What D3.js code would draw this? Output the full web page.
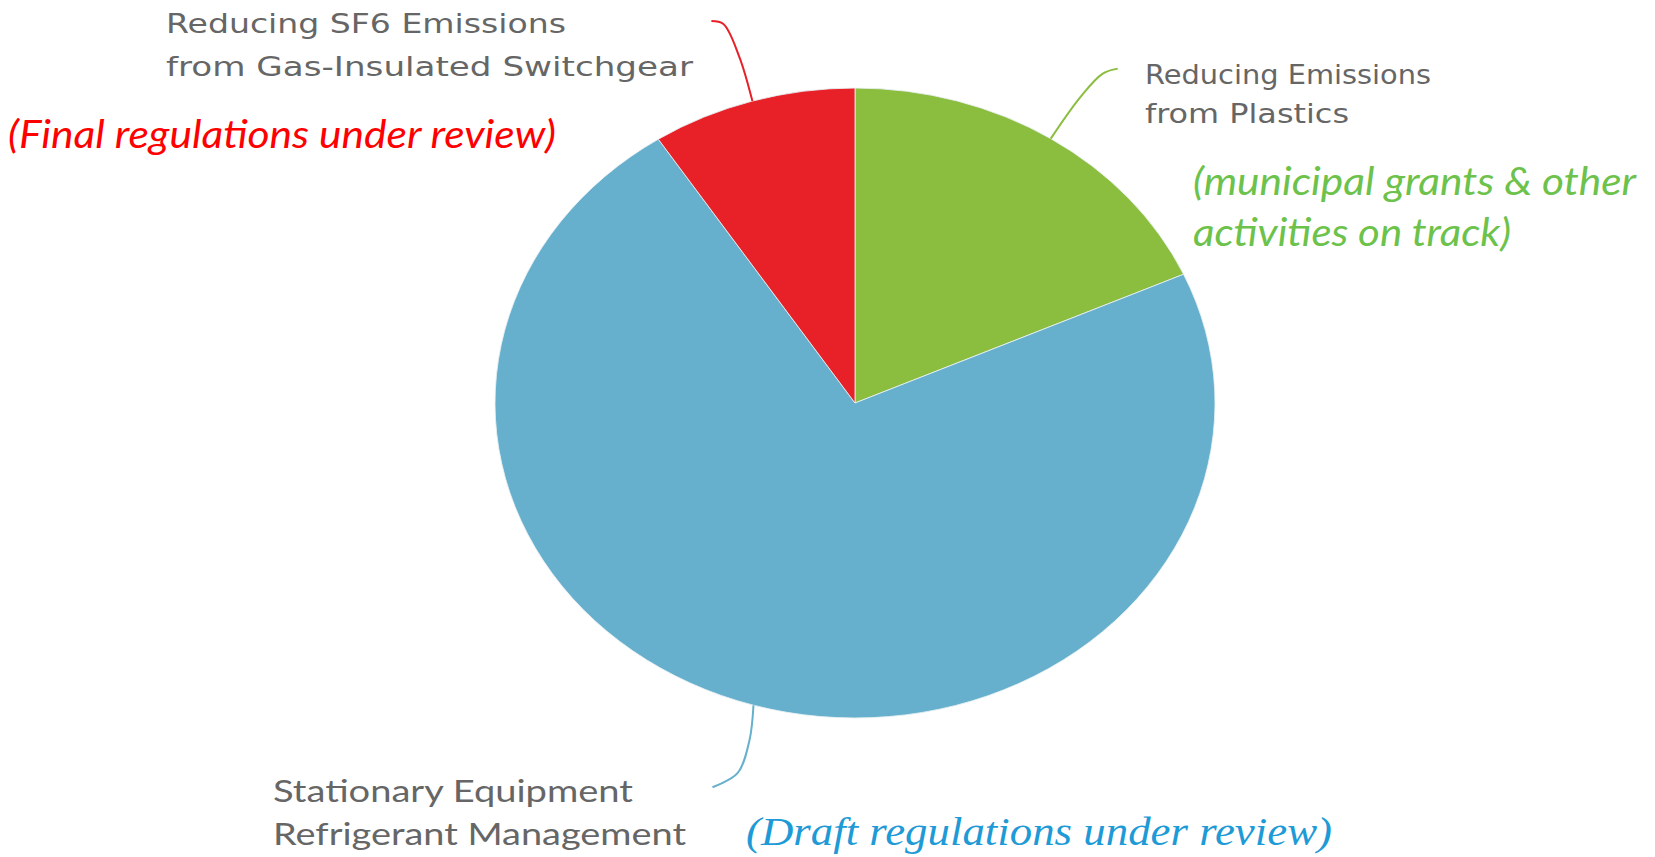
<!DOCTYPE html>
<html>
<head>
<meta charset="utf-8">
<script src="https://cdn.jsdelivr.net/npm/d3@7"></script>
<style>
  body { margin: 0; background: #fff; }
</style>
</head>
<body>
<div id="chart"></div>
<script>
// slice data, clockwise from 12 o'clock
var categories = ["Reducing Emissions from Plastics", "Stationary Equipment Refrigerant Management", "Reducing SF6 Emissions from Gas-Insulated Switchgear"]
var shares = [18.3, 72.5, 9.2]
var colors = ["#8bbd3f", "#66b0cd", "#e82129"]
var labelLines = [
    ["Reducing Emissions", "from Plastics"],
    ["Stationary Equipment", "Refrigerant Management"],
    ["Reducing SF6 Emissions", "from Gas-Insulated Switchgear"]
]
var statusNotes = [
    ["(municipal grants & other", "activities on track)"],
    ["(Draft regulations under review)"],
    ["(Final regulations under review)"]
]

var width = 1655, height = 857
var cx = 855, cy = 403
var r = 314, rx = 360, ry = 315

var svg = d3.select("#chart").append("svg")
    .attr("width", width)
    .attr("height", height)

var pie = d3.pie().sort(null).value(function(d) { return d })
var arcs = pie(shares)
var arc = d3.arc().innerRadius(0).outerRadius(r)

// the original pie is stretched sideways, so scale the circle
var pieG = svg.append("g")
    .attr("transform", "translate(" + cx + "," + cy + ") scale(" + (rx / r) + "," + (ry / r) + ")")

pieG.selectAll("path")
    .data(arcs)
    .enter()
    .append("path")
    .attr("d", arc)
    .attr("fill", function(d, i) { return colors[i] })
    .attr("stroke", "#e8f0f2")
    .attr("stroke-width", 0.8)

// leader lines start on the rim at the middle of each slice
function rimPoint(d) {
    var a = (d.startAngle + d.endAngle) / 2
    return [cx + rx * Math.sin(a), cy - ry * Math.cos(a)]
}
var leaderBends = [
    [[0, 0], [30, -42], [52, -65], [67, -70]],
    [[0, 0], [-4, 35], [-16, 68], [-41, 82]],
    [[0, 0], [-13, -44], [-29, -77], [-41, -80]]
]
var line = d3.line().curve(d3.curveCatmullRom.alpha(0.5))
svg.selectAll(".leader")
    .data(arcs)
    .enter()
    .append("path")
    .attr("class", "leader")
    .attr("d", function(d, i) {
        var p = rimPoint(d)
        return line(leaderBends[i].map(function(o) { return [p[0] + o[0], p[1] + o[1]] }))
    })
    .attr("fill", "none")
    .attr("stroke", function(d, i) { return colors[i] })
    .attr("stroke-width", 2)

// grey category labels
var labelPos = [
    {x: 1145, y: [84, 123], w: [286, 204]},
    {x: 273, y: [802, 845], w: [360, 413]},
    {x: 166, y: [33, 76], w: [400, 527]}
]
labelLines.forEach(function(lines, i) {
    lines.forEach(function(t, j) {
        svg.append("text")
            .attr("x", labelPos[i].x)
            .attr("y", labelPos[i].y[j])
            .attr("textLength", labelPos[i].w[j])
            .attr("lengthAdjust", "spacingAndGlyphs")
            .style("font-family", i == 1 ? "Lato" : "DejaVu Sans")
            .style("font-size", i == 1 ? "30px" : "26px")
            .style("fill", "#666")
            .text(t)
    })
})

// coloured status notes
var notePos = [
    {x: 1193, y: [195, 246], w: [443, 318], font: "Lato", size: 38, color: "#6cc24a"},
    {x: 746, y: [845], w: [586], font: "Liberation Serif", size: 40, color: "#1e9ad6"},
    {x: 8, y: [148], w: [548], font: "Lato", size: 38, color: "#ff0000"}
]
statusNotes.forEach(function(lines, i) {
    var p = notePos[i]
    lines.forEach(function(t, j) {
        svg.append("text")
            .attr("x", p.x)
            .attr("y", p.y[j])
            .attr("textLength", p.w[j])
            .attr("lengthAdjust", "spacingAndGlyphs")
            .style("font-family", p.font)
            .style("font-style", "italic")
            .style("font-size", p.size + "px")
            .style("fill", p.color)
            .text(t)
    })
})
</script>
</body>
</html>
